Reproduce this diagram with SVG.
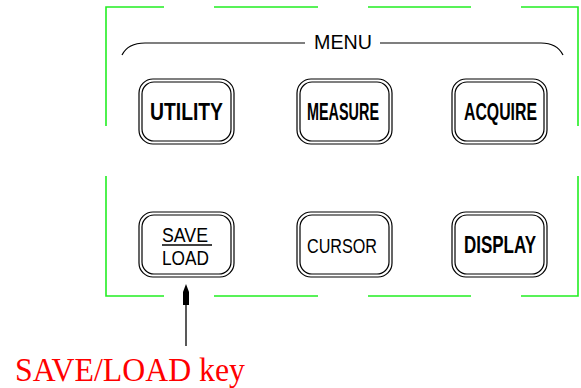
<svg xmlns="http://www.w3.org/2000/svg" width="581" height="388" viewBox="0 0 581 388">
<style>
.g{stroke:#22ee22;stroke-width:1.6;fill:none}
.b{fill:none;stroke:#000;stroke-width:1.2}
.t{font-family:"Liberation Sans",Arial,sans-serif;font-weight:bold;font-size:24px;fill:#000}
.tn{font-family:"Liberation Sans",Arial,sans-serif;font-size:21px;fill:#000}
</style>
<defs>
<g id="btn">
<rect x="0" y="0" width="95" height="65" rx="14" class="b"/>
<rect x="3" y="3" width="89" height="59" rx="12" class="b"/>
</g>
</defs>
<rect width="581" height="388" fill="#fff"/>
<g id="frame">
<path class="g" d="M106 126V7H164M214 7H318M368 7H471M521 7H578V126"/>
<path class="g" d="M106 176V296H164M214 296H318M368 296H471M521 296H578V176"/>
</g>
<g id="menu">
<path class="b" d="M122 55Q128 43 145 43H305M380 43H541Q557 43 563 55"/>
<text x="314" y="49" class="tn" textLength="58" lengthAdjust="spacingAndGlyphs" font-size="23" font-weight="500">MENU</text>
</g>
<g id="utility"><use href="#btn" x="139" y="79"/><text x="150" y="120" class="t" textLength="73" lengthAdjust="spacingAndGlyphs">UTILITY</text></g>
<g id="measure"><use href="#btn" x="297" y="79"/><text x="307" y="120" class="t" textLength="72" lengthAdjust="spacingAndGlyphs">MEASURE</text></g>
<g id="acquire"><use href="#btn" x="452" y="79"/><text x="464" y="120" class="t" textLength="73" lengthAdjust="spacingAndGlyphs">ACQUIRE</text></g>
<g id="saveload"><use href="#btn" x="139" y="212"/>
<text x="162" y="242" class="tn" textLength="46" lengthAdjust="spacingAndGlyphs">SAVE</text>
<line x1="162" y1="245" x2="212" y2="245" stroke="#000" stroke-width="1.5"/>
<text x="162" y="265" class="tn" textLength="47" lengthAdjust="spacingAndGlyphs">LOAD</text></g>
<g id="cursor"><use href="#btn" x="297" y="212"/><text x="307" y="253" class="tn" textLength="70" lengthAdjust="spacingAndGlyphs" font-size="22">CURSOR</text></g>
<g id="display"><use href="#btn" x="452" y="212"/><text x="464" y="253" class="t" textLength="72" lengthAdjust="spacingAndGlyphs">DISPLAY</text></g>
<g id="connectors">
<line x1="186" y1="346" x2="186" y2="300" stroke="#222" stroke-width="1.5"/>
<path d="M186 284L189 292V305H183V292Z" fill="#000"/>
</g>
<g id="label">
<text x="15" y="381" font-family="'Liberation Serif',serif" font-size="34" fill="#ff0000" textLength="230" lengthAdjust="spacingAndGlyphs">SAVE/LOAD key</text>
</g>
</svg>
